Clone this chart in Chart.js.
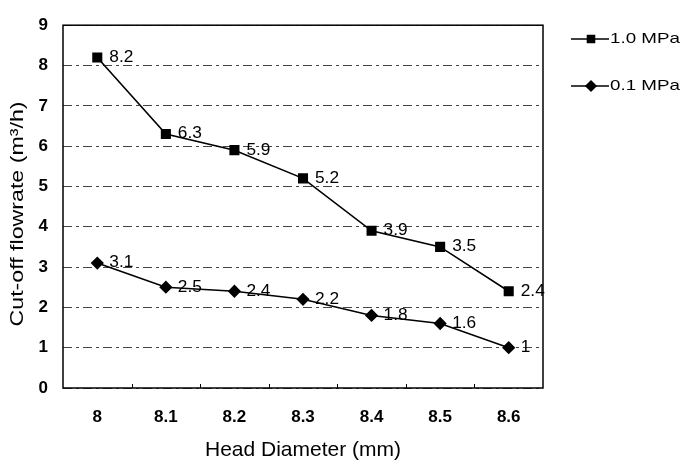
<!DOCTYPE html>
<html>
<head>
<meta charset="utf-8">
<script src="https://cdn.jsdelivr.net/npm/chart.js@4.4.0/dist/chart.umd.min.js"></script>
<style>
  html, body { margin: 0; padding: 0; background: #fff; }
  #wrap { width: 682px; height: 464px; position: relative; }
</style>
</head>
<body>
<div id="wrap"><canvas id="lineChart"></canvas></div>
<script>
const categories = ['8', '8.1', '8.2', '8.3', '8.4', '8.5', '8.6'];
const highPressure = [8.2, 6.3, 5.9, 5.2, 3.9, 3.5, 2.4];
const lowPressure = [3.1, 2.5, 2.4, 2.2, 1.8, 1.6, 1];
const seriesNames = ['1.0 MPa', '0.1 MPa'];
const yTitle = 'Cut-off flowrate (m\u00b3/h)';

const FONT = '"Liberation Sans", Arial, sans-serif';

// text in the scan is a little wider than plain Arial
function wideText(ctx, text, x, y, sx, rot) {
  ctx.save();
  ctx.translate(x, y);
  if (rot) ctx.rotate(rot);
  ctx.scale(sx, 1);
  ctx.fillText(text, 0, 0);
  ctx.restore();
}

// frame, inward x ticks, value labels, y title and legend
const extras = {
  id: 'extras',
  beforeDatasetsDraw(chart) {
    const { ctx, chartArea: a } = chart;
    ctx.save();
    ctx.strokeStyle = '#000';
    ctx.lineWidth = 1.5;
    ctx.strokeRect(a.left, a.top, a.right - a.left, a.bottom - a.top);
    ctx.lineWidth = 1;
    const step = (a.right - a.left) / categories.length;
    for (let i = 1; i < categories.length; i++) {
      const x = Math.round(a.left + step * i) + 0.5;
      ctx.beginPath();
      ctx.moveTo(x, a.bottom);
      ctx.lineTo(x, a.bottom - 4);
      ctx.stroke();
    }
    ctx.restore();
  },
  afterDatasetsDraw(chart) {
    const { ctx } = chart;
    ctx.save();
    ctx.fillStyle = '#000';
    ctx.textBaseline = 'middle';
    ctx.textAlign = 'left';
    ctx.font = '16px ' + FONT;
    chart.data.datasets.forEach((ds, i) => {
      const meta = chart.getDatasetMeta(i);
      meta.data.forEach((pt, j) => {
        wideText(ctx, String(ds.data[j]), pt.x + 12, pt.y, 1.08);
      });
    });

    // y axis title
    ctx.font = '19px ' + FONT;
    ctx.textAlign = 'center';
    wideText(ctx, yTitle, 18, 214, 1.22, -Math.PI / 2);

    // legend
    ctx.textAlign = 'left';
    const items = [
      { y: 39, style: 'rect', r: 5, name: seriesNames[0] },
      { y: 86, style: 'rectRot', r: 5, name: seriesNames[1] }
    ];
    items.forEach(it => {
      ctx.strokeStyle = '#000';
      ctx.lineWidth = 1.5;
      ctx.beginPath();
      ctx.moveTo(571, it.y);
      ctx.lineTo(609, it.y);
      ctx.stroke();
      Chart.helpers.drawPoint(ctx, { pointStyle: it.style, radius: it.r, rotation: 0, borderWidth: 1 }, 591, it.y);
      ctx.fill();
      ctx.font = '15px ' + FONT;
      wideText(ctx, it.name, 610, it.y, 1.25);
    });
    ctx.restore();
  }
};

new Chart(document.getElementById('lineChart'), {
  type: 'line',
  data: {
    labels: categories,
    datasets: [
      {
        label: seriesNames[0],
        data: highPressure,
        borderColor: '#000',
        backgroundColor: '#000',
        borderWidth: 1.6,
        pointStyle: 'rect',
        pointRadius: 6,
        tension: 0
      },
      {
        label: seriesNames[1],
        data: lowPressure,
        borderColor: '#000',
        backgroundColor: '#000',
        borderWidth: 1.6,
        pointStyle: 'rectRot',
        pointRadius: 5.5,
        tension: 0
      }
    ]
  },
  options: {
    responsive: true,
    maintainAspectRatio: false,
    animation: false,
    layout: { padding: { left: 0, right: 139, top: 16, bottom: 0 } },
    plugins: {
      legend: { display: false },
      tooltip: { enabled: false }
    },
    scales: {
      x: {
        offset: true,
        grid: { display: false },
        border: { display: false },
        ticks: { color: '#000', font: { family: FONT, size: 17, weight: 'bold' }, padding: 11, maxRotation: 0 },
        title: { display: true, text: 'Head Diameter (mm)', color: '#000', font: { family: FONT, size: 21 }, padding: { top: 1, bottom: 1 } },
        afterFit(scale) { scale.height = 76; }
      },
      y: {
        min: 0,
        max: 9,
        ticks: { stepSize: 1, color: '#000', font: { family: FONT, size: 17, weight: 'bold' }, padding: 15 },
        grid: { color: '#444', lineWidth: 1, drawTicks: false },
        border: { display: false, dash: [9, 4, 3, 4] },
        afterFit(scale) { scale.width = 63; }
      }
    }
  },
  plugins: [extras]
});
</script>
</body>
</html>
